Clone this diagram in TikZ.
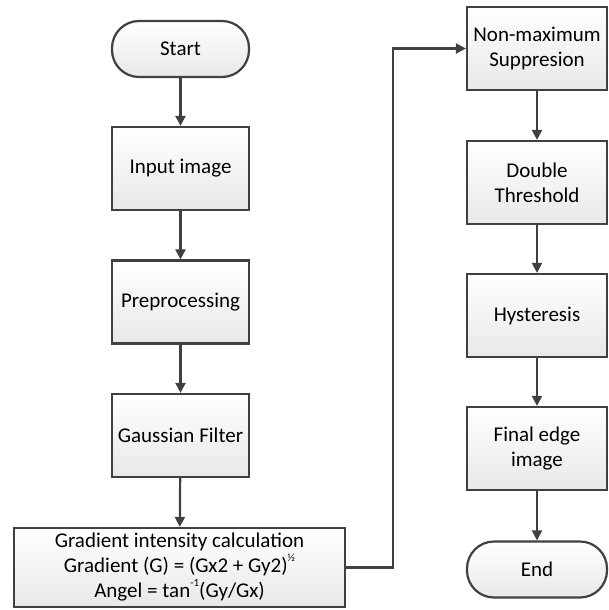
\documentclass[tikz,border=0pt]{standalone}
\usepackage{fontspec}
\setmainfont{Carlito}
\usetikzlibrary{arrows.meta,calc}

\tikzset{
  boxbase/.style={draw=black!75, line width=2.2pt, top color=white, bottom color=black!9,
    align=center, inner sep=2pt, font=\fontsize{21}{25}\selectfont},
  procbox/.style={boxbase, rectangle, minimum height=83pt},
  leftbox/.style={procbox, minimum width=137pt},
  rightbox/.style={procbox, minimum width=140pt},
  terminal/.style={boxbase, rectangle, rounded corners=27pt, minimum height=56pt},
  flow/.style={draw=black!75, line width=2.2pt, -{Triangle[length=10pt,width=10pt]}}
}

\newcommand{\supsmall}[1]{\raisebox{0.55em}{\fontsize{11}{11}\selectfont #1}}

\begin{document}
\begin{tikzpicture}[x=1pt,y=-1pt]
\useasboundingbox (0,0) rectangle (609,610);

% left column
\node[terminal, minimum width=137pt] (start) at (180.5,49) {Start};
\node[leftbox] (input) at (180.5,168.5) {Input image};
\node[leftbox] (prep)  at (180.5,302) {Preprocessing};
\node[leftbox] (gauss) at (180.5,435.5) {Gaussian Filter};
\node[boxbase, rectangle, minimum width=331pt, minimum height=79pt] (grad) at (179.5,567.5)
  {Gradient intensity calculation\\
   Gradient (G) = (Gx2 + Gy2)\supsmall{½}\\
   Angel = tan\supsmall{-1}(Gy/Gx)};

% right column
\node[rightbox] (nonmax) at (537,48.5) {Non-maximum\\Suppresion};
\node[rightbox] (double) at (537,182.5) {Double\\Threshold};
\node[rightbox] (hyst)   at (537,315.5) {Hysteresis};
\node[rightbox] (final)  at (537,448.5) {Final edge\\image};
\node[terminal, minimum width=140pt] (end) at (537,569.5) {End};

% connectors
\draw[flow] (start) -- (input);
\draw[flow] (input) -- (prep);
\draw[flow] (prep) -- (gauss);
\draw[flow] (gauss) -- (grad);
\coordinate (bend) at (393,0);
\draw[flow] (grad.east) -- (grad.east -| bend) |- (nonmax.west);
\draw[flow] (nonmax) -- (double);
\draw[flow] (double) -- (hyst);
\draw[flow] (hyst) -- (final);
\draw[flow] (final) -- (end);
\end{tikzpicture}
\end{document}
